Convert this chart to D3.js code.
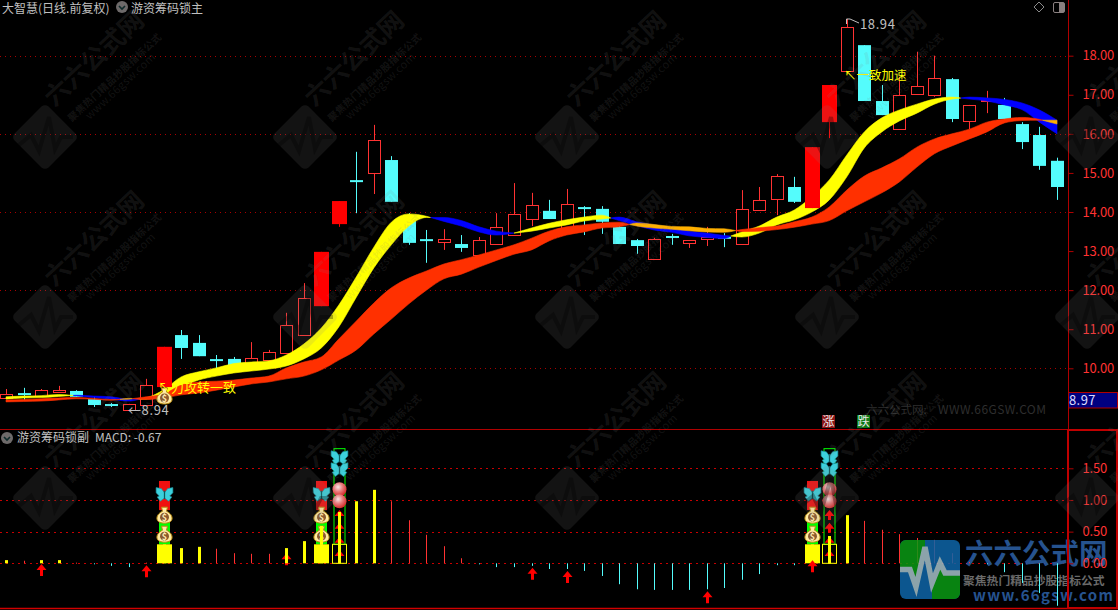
<!DOCTYPE html>
<html><head><meta charset="utf-8">
<script src="https://cdn.jsdelivr.net/npm/d3@7/dist/d3.min.js"></script>
<style>html,body{margin:0;padding:0;background:#000;overflow:hidden}svg{display:block}
text{font-family:"Noto Sans CJK SC","Liberation Sans",sans-serif}</style></head><body>
<svg id="c" width="1118" height="610"></svg>
<script>
// ---- candles ----
const opens=[9.24,9.34,9.29,9.41,9.42,9.21,9.06,8.94,9.06,9.52,10.85,10.65,10.21,10.24,10.01,10.21,10.39,10.85,11.59,13.69,14.79,15.00,15.33,13.85,13.28,13.23,13.18,12.90,13.18,13.41,13.82,14.03,13.59,14.10,14.08,13.62,13.28,12.80,13.36,13.21,13.31,13.34,13.18,14.05,14.33,14.64,14.10,16.30,17.61,18.27,16.84,16.12,17.02,17.00,17.40,16.33,16.85,16.74,16.25,15.97,15.31];
const closes=[9.34,9.34,9.44,9.45,9.27,9.06,9.06,9.09,9.57,10.55,10.52,10.31,10.21,10.08,10.26,10.42,11.11,11.80,12.98,14.28,14.79,15.84,14.26,13.21,13.28,13.31,13.08,13.28,13.62,13.95,14.18,13.82,14.21,14.10,13.75,13.18,13.13,13.31,13.36,13.28,13.36,13.34,14.08,14.31,14.92,14.26,15.66,17.25,18.74,16.84,16.48,17.00,17.23,17.43,16.38,16.74,16.87,16.38,15.79,15.18,14.64];
const highs=[9.47,9.50,9.47,9.55,9.44,9.29,9.11,9.09,9.73,10.55,10.98,10.85,10.34,10.29,10.67,10.47,11.42,12.18,12.98,14.28,15.54,16.23,15.43,13.97,13.54,13.56,13.41,13.36,13.97,14.74,14.49,14.31,14.59,14.15,14.15,13.70,13.31,13.34,13.44,13.28,13.62,13.46,14.56,14.64,14.97,14.90,15.66,17.25,18.94,18.27,17.25,17.46,18.10,18.00,17.43,16.74,17.10,16.92,16.30,16.18,15.39];
const lows=[9.24,9.19,9.29,9.39,9.27,9.01,9.01,8.94,9.06,9.52,10.24,10.31,9.93,10.08,9.96,10.14,10.39,10.85,11.59,13.62,13.97,14.46,14.26,13.16,12.70,13.03,12.98,12.90,13.18,13.41,13.64,13.82,13.59,13.41,13.44,13.18,12.93,12.80,13.16,13.08,13.13,13.10,13.18,14.05,13.92,14.23,14.10,15.89,17.53,16.84,16.48,16.12,17.02,16.95,16.30,16.12,16.53,16.38,15.61,15.08,14.31];
const solidCandles=[9,18,19,46,47];
// ---- ribbons ----
const fastA=[9.27,9.29,9.30,9.33,9.30,9.25,9.21,9.16,9.24,9.45,9.78,9.91,10.01,10.12,10.16,10.19,10.34,10.62,11.03,11.62,12.34,13.10,13.74,13.95,13.89,13.76,13.64,13.49,13.41,13.46,13.59,13.71,13.80,13.87,13.92,13.78,13.65,13.54,13.48,13.39,13.35,13.32,13.49,13.64,13.87,14.05,14.39,14.82,15.46,16.05,16.41,16.61,16.76,16.89,16.94,16.89,16.84,16.74,16.62,16.30,16.00];
const slowA=[9.21,9.24,9.25,9.28,9.31,9.29,9.27,9.21,9.21,9.34,9.52,9.70,9.80,9.88,9.93,9.98,10.06,10.24,10.52,11.06,11.82,12.57,13.16,13.64,13.86,13.86,13.78,13.62,13.51,13.46,13.51,13.59,13.67,13.77,13.82,13.87,13.75,13.67,13.59,13.51,13.46,13.40,13.36,13.46,13.67,13.80,14.00,14.31,14.90,15.64,16.05,16.33,16.53,16.76,16.89,16.94,16.92,16.88,16.79,16.61,16.35];
const fastB=[9.19,9.20,9.22,9.24,9.25,9.23,9.20,9.21,9.27,9.34,9.57,9.65,9.67,9.70,9.75,9.80,10.01,10.16,10.29,10.75,11.21,11.67,12.06,12.31,12.49,12.67,12.78,12.90,13.03,13.16,13.33,13.51,13.62,13.67,13.72,13.74,13.64,13.59,13.56,13.52,13.49,13.48,13.55,13.60,13.64,13.75,13.87,14.13,14.56,14.92,15.13,15.36,15.66,15.87,16.00,16.12,16.30,16.38,16.42,16.37,16.25];
const slowB=[9.14,9.15,9.16,9.19,9.22,9.21,9.18,9.23,9.20,9.24,9.32,9.37,9.44,9.52,9.60,9.65,9.73,9.80,9.96,10.21,10.47,10.88,11.26,11.65,12.00,12.29,12.41,12.59,12.76,12.92,13.03,13.26,13.41,13.49,13.59,13.62,13.72,13.68,13.63,13.62,13.58,13.57,13.50,13.51,13.55,13.61,13.69,13.78,14.03,14.26,14.49,14.77,15.15,15.49,15.69,15.87,16.05,16.28,16.34,16.35,16.35];
// ---- MACD ----
const macd=[0.05,0.04,0.05,0.05,0.01,-0.01,-0.04,-0.06,0.01,0.30,0.24,0.26,0.23,0.16,0.15,0.15,0.24,0.35,0.59,0.81,0.98,1.16,0.98,0.68,0.45,0.27,0.08,-0.01,-0.06,-0.06,-0.04,-0.09,-0.09,-0.12,-0.20,-0.33,-0.41,-0.42,-0.42,-0.42,-0.41,-0.39,-0.26,-0.17,-0.03,-0.03,0.30,0.43,0.76,0.67,0.53,0.46,0.40,0.37,0.16,0.02,-0.01,-0.14,-0.31,-0.47,-0.67];
const macdYellow=[0,2,3,9,10,11,16,17,18,19,20,21,46,47,48];
const priceTicks=[10,11,12,13,14,15,16,17,18];
const priceGrid=[10,12,14,16,18];
const macdTicks=[0,0.5,1,1.5];
// ---- signals ----
const blockSignals=[9,18,46], blockTop=0.30;
const boxSignals=[19,47], boxTop=0.30;
const bagSignals=[9,18,46], bagLevels=[0.76,0.46];
const redBarRange=[1.30,0.84], greenBarRange=[0.65,0.30];
const butterflyALevels=[1.08];
const tallSignals=[19,47], tallRange=[1.81,0.30];
const tallButterflyLevels=[1.66,1.47], tallBallLevels=[1.17,0.98], tallArrowLevels=[0.84,0.64,0.42,0.21];
const upArrows=[[2,-0.01],[8,-0.03],[30,-0.07],[32,-0.12],[40,-0.44],[46,0.05]];
const hiddenArrows=[[16,0.16]];
const headerMain=["大智慧(日线.前复权)","游资筹码锁主"];
const headerSub=["游资筹码锁副","MACD: -0.67"];
const bagMain=[9,9.29];
const lastPrice="8.97";

const svg=d3.select("#c");
const RED="#ff3232", GREY="#c0c0c0", FRAME="#b00000";
const x=d3.scaleLinear([0,60],[6,1057]);
const y=d3.scaleLinear([10,18],[368.3,55.7]);
const ym=d3.scaleLinear([0,1.5],[563.3,468.3]);
const px=v=>Math.round(v)+0.5;
const idx=d3.range(opens.length);

svg.append("rect").attr("width",1118).attr("height",610).attr("fill","#000");
const defs=svg.append("defs");
const bg=defs.append("radialGradient").attr("id","ballG").attr("cx","40%").attr("cy","35%").attr("r","70%");
bg.append("stop").attr("offset","0").attr("stop-color","#f6e6e6");
bg.append("stop").attr("offset","0.45").attr("stop-color","#e88080");
bg.append("stop").attr("offset","1").attr("stop-color","#d02020");

// grid
svg.append("g").selectAll("line").data(priceGrid).join("line")
 .attr("x1",0).attr("x2",1068).attr("y1",d=>px(y(d))).attr("y2",d=>px(y(d)))
 .attr("stroke","#a80000").attr("stroke-dasharray","1 4");
svg.append("g").selectAll("line").data(macdTicks).join("line")
 .attr("x1",0).attr("x2",1068).attr("y1",d=>px(ym(d))).attr("y2",d=>px(ym(d)))
 .attr("stroke","#c80000").attr("stroke-dasharray","2 4");

// corner logo text sits under the histogram
svg.append("text").attr("x",965).attr("y",564).attr("font-size",28.5).attr("font-weight",700).attr("fill","#26538f").text("六六公式网");
svg.append("text").attr("x",963).attr("y",584.5).attr("font-size",11.8).attr("font-weight",700).attr("fill","#6a6a6a").text("聚焦热门精品抄股指标公式");
svg.append("text").attr("x",973).attr("y",601).attr("font-size",15).attr("font-weight",700).attr("letter-spacing",1.3).attr("fill","#26538f").attr("font-family","Liberation Sans").text("www.66gsw.com");

// candles
const isSolid=i=>solidCandles.includes(i);
const gC=svg.append("g");
function drawCandle(g,i){
 const up=closes[i]>opens[i], cx=Math.round(x(i));
 const col=up?RED:"#54fcfc";
 const t=y(Math.max(opens[i],closes[i])), b=y(Math.min(opens[i],closes[i]));
 g.append("line").attr("x1",cx+.5).attr("x2",cx+.5).attr("y1",y(highs[i])).attr("y2",y(lows[i])).attr("stroke",isSolid(i)?"#ff0000":col);
 if(isSolid(i)){
  g.append("rect").attr("x",cx-7).attr("width",15).attr("y",t).attr("height",b-t).attr("fill","#ff0000");
 } else if(up){
  g.append("rect").attr("x",cx-5.5).attr("width",12).attr("y",Math.round(t)+.5).attr("height",Math.max(1,Math.round(b-t))).attr("fill","#000").attr("stroke",col);
 } else {
  g.append("rect").attr("x",cx-6).attr("width",13).attr("y",t-(b-t<2?1:0)).attr("height",Math.max(2,b-t)).attr("fill",col);
 }
}
idx.filter(i=>!isSolid(i)).forEach(i=>drawCandle(gC,i));

// ribbons
function ribbon(g,top,bot,colPos,colNeg){
 const runs=[]; let cur=null;
 idx.forEach(i=>{
  const s=top[i]>=bot[i];
  const pt={i,a:top[i],b:bot[i]};
  if(cur&&cur.s!==s){
   const d0=top[i-1]-bot[i-1], d1=top[i]-bot[i], t=d0===d1?0:d0/(d0-d1);
   const cv=top[i-1]+(top[i]-top[i-1])*t;
   const cp={i:i-1+t,a:cv,b:cv};
   cur.pts.push(cp); runs.push(cur);
   cur={s,pts:[cp,pt]};
  } else if(cur){cur.pts.push(pt);} else {cur={s,pts:[pt]};}
 });
 runs.push(cur);
 const area=d3.area().x(d=>x(d.i)).y0(d=>y(d.a)).y1(d=>y(d.b)).curve(d3.curveMonotoneX);
 runs.filter(r=>!r.s).concat(runs.filter(r=>r.s)).forEach(r=>{
  g.append("path").attr("d",area(r.pts)).attr("fill",r.s?colPos:colNeg).attr("stroke",r.s?colPos:colNeg).attr("stroke-width",.6);
 });
}
const gR=svg.append("g");
ribbon(gR,fastA,slowA,"#ffff00","#0000ff");
ribbon(gR,fastB,slowB,"#ff3000","#ffb000");
const gSolid=svg.append("g");
idx.filter(isSolid).forEach(i=>drawCandle(gSolid,i));

// icons
function bag(g,cx,cy){
 const b=g.append("g").attr("transform",`translate(${cx},${cy})`);
 b.append("path").attr("d","M-3,-8 L3,-8 L2,-4 C6,-2 8,1 7.5,4 C7,7 3,8 0,8 C-3,8 -7,7 -7.5,4 C-8,1 -6,-2 -2,-4 Z").attr("fill","#ffeaa0").attr("stroke","#b88a10");
 b.append("circle").attr("cy",2).attr("r",4.5).attr("fill","#8a5a30");
 b.append("text").attr("y",5.5).attr("text-anchor","middle").attr("font-size",9).attr("font-weight",700).attr("fill","#ffe9b0").text("$");
}
function butterfly(g,cx,cy){
 const b=g.append("g").attr("transform",`translate(${cx},${cy}) scale(1.05)`);
 b.append("path").attr("d","M0,-2 L-3,-6 L-8,-7 L-8,-2 L-5,1 L-7,2 L-4,6 L0,3 L4,6 L7,2 L5,1 L8,-2 L8,-7 L3,-6 Z").attr("fill","#3cd0dc").attr("stroke","#1a8a94").attr("stroke-width",.6);
 b.append("line").attr("y1",-4).attr("y2",4).attr("stroke","#0b5a60").attr("stroke-width",1.2);
}
function ball(g,cx,cy){
 g.append("circle").attr("cx",cx).attr("cy",cy).attr("r",7).attr("fill","url(#ballG)");
}
function arrow(g,cx,top,h){
 h=h||12;
 g.append("path").attr("d",`M${cx},${top} L${cx+5},${top+6} L${cx+1.5},${top+6} L${cx+1.5},${top+h} L${cx-1.5},${top+h} L${cx-1.5},${top+6} L${cx-5},${top+6} Z`).attr("fill","#ff0000");
}

// lower panel
const gBack=svg.append("g");
hiddenArrows.forEach(([i,v])=>arrow(gBack,Math.round(x(i))+.5,ym(v)));
const gM=svg.append("g");
idx.forEach(i=>{
 const yel=macdYellow.includes(i), v=macd[i], cx=Math.round(x(i));
 gM.append("rect").attr("x",yel?cx-1:cx).attr("width",yel?3:1)
  .attr("y",v>=0?ym(v):ym(0)).attr("height",Math.max(1,Math.abs(ym(v)-ym(0))))
  .attr("fill",yel?"#ffff00":(v>=0?RED:"#54fcfc"));
});
const gS=svg.append("g");
bagSignals.forEach(i=>{
 const cx=Math.round(x(i))+.5;
 gS.append("rect").attr("x",cx-5.5).attr("width",11).attr("y",ym(redBarRange[0])).attr("height",ym(redBarRange[1])-ym(redBarRange[0])).attr("fill","#f01010");
 gS.append("rect").attr("x",cx-5.5).attr("width",11).attr("y",ym(greenBarRange[0])).attr("height",ym(greenBarRange[1])-ym(greenBarRange[0])).attr("fill","#00ff00");
 gS.append("rect").attr("x",cx-7.5).attr("width",15).attr("y",ym(blockTop)).attr("height",ym(0)-ym(blockTop)).attr("fill","#ffff00");
 bagLevels.forEach(l=>bag(gS,cx,ym(l)));
 butterflyALevels.forEach(l=>butterfly(gS,cx,ym(l)));
});
{const cx=Math.round(x(18))+.5; gS.append("rect").attr("x",cx-1.5).attr("width",3).attr("y",ym(macd[18])).attr("height",ym(blockTop)-ym(macd[18])).attr("fill","#ffff00");}
tallSignals.forEach(i=>{
 const cx=Math.round(x(i))+.5;
 gS.append("rect").attr("x",cx-5.5).attr("width",11).attr("y",ym(tallRange[0])).attr("height",ym(tallRange[1])-ym(tallRange[0])).attr("fill","none").attr("stroke","#00ff00");
 tallArrowLevels.forEach(l=>arrow(gS,cx,ym(l),10));
 tallBallLevels.forEach(l=>ball(gS,cx,ym(l)));
 tallButterflyLevels.forEach(l=>butterfly(gS,cx,ym(l)));
 gS.append("rect").attr("x",cx-7).attr("width",14).attr("y",ym(boxTop)).attr("height",ym(0)-ym(boxTop)).attr("fill","none").attr("stroke","#ffff00");
 gS.append("rect").attr("x",cx-1.5).attr("width",3).attr("y",ym(macd[i])).attr("height",ym(0)-ym(macd[i])).attr("fill","#ffff00");
});
upArrows.forEach(([i,v])=>arrow(gS,Math.round(x(i))+.5,ym(v)));

// main panel annotations
bag(svg,Math.round(x(bagMain[0]))+.5,y(bagMain[1]));
const note=(t,xx,yy,col,size)=>svg.append("text").attr("x",xx).attr("y",yy).attr("fill",col).attr("font-size",size).text(t);
note("↖力攻转一致",158,392,"#ffff00",13);
note("↖一致加速",844,80,"#ffff00",12.5);
note("←8.94",128,415,GREY,13).attr("font-family","Liberation Sans").attr("letter-spacing",.6);
note("18.94",860,29,GREY,13).attr("font-family","Liberation Sans").attr("letter-spacing",.6);
svg.append("path").attr("d",`M846.5,24V19H850M850,19L859,23`).attr("fill","none").attr("stroke",GREY);

// header
note(headerMain[0],2,13,GREY,12);
note(headerMain[1],131,13,GREY,12);
note(headerSub[0],17,442,GREY,12);
note(headerSub[1],95,442,GREY,12).attr("font-family","Liberation Sans");
function hIcon(cx,cy){
 svg.append("circle").attr("cx",cx).attr("cy",cy).attr("r",6).attr("fill","#6e6a6a");
 svg.append("path").attr("d",`M${cx-3},${cy-1} L${cx},${cy+2} L${cx+3},${cy-1}`).attr("fill","none").attr("stroke","#0e2a2a").attr("stroke-width",1.6);
}
hIcon(122,7); hIcon(7,438);

// frame
const fr=svg.append("g").attr("fill","none").attr("stroke",FRAME);
fr.append("line").attr("x1",0).attr("x2",1118).attr("y1",429.5).attr("y2",429.5);
fr.append("line").attr("x1",1068.5).attr("x2",1068.5).attr("y1",0).attr("y2",430);
fr.append("line").attr("x1",0).attr("x2",1118).attr("y1",608.5).attr("y2",608.5).attr("stroke","#d00000").attr("stroke-width",1.5);
fr.append("rect").attr("x",1068).attr("y",430).attr("width",49).attr("height",178).attr("stroke","#c00000").attr("stroke-width",2);
svg.append("rect").attr("x",1068.5).attr("y",392.5).attr("width",49).attr("height",15.5).attr("fill","#000080").attr("stroke",FRAME);
svg.append("text").attr("x",1069).attr("y",404.5).attr("fill","#dcdcff").attr("font-size",13).attr("font-family","Liberation Sans").attr("letter-spacing",.4).text(lastPrice);

// axes
function styleAxis(g,col){
 g.select(".domain").remove();
 g.selectAll("line").attr("stroke",col);
 g.selectAll("text").attr("fill",RED).attr("font-size",13).attr("font-family","Liberation Sans").attr("x",14).attr("letter-spacing",-.2);
}
svg.append("g").attr("transform","translate(1068.5,0)").call(d3.axisRight(y).tickValues(priceTicks).tickSize(5).tickFormat(d3.format(".2f"))).call(g=>styleAxis(g,FRAME));
svg.append("g").attr("transform","translate(1068.5,0)").call(d3.axisRight(ym).tickValues(macdTicks).tickSize(5).tickFormat(d3.format(".2f"))).call(g=>styleAxis(g,FRAME));

// top right icons
svg.append("path").attr("d","M1039,2 L1044,7 L1039,12 L1034,7 Z").attr("fill","none").attr("stroke","#8a8a8a");
svg.append("rect").attr("x",1053.5).attr("y",2.5).attr("width",11).attr("height",10).attr("rx",1.5).attr("fill","none").attr("stroke","#8a8080");
svg.append("rect").attr("x",1059).attr("y",3).attr("width",5).attr("height",9).attr("fill","#8a8080");

// rise/fall tags
[["涨",822,"#8a1414"],["跌",857,"#0a7a14"]].forEach(([t,xx,c])=>{
 svg.append("rect").attr("x",xx).attr("y",415).attr("width",13).attr("height",13).attr("fill",c);
 svg.append("text").attr("x",xx+.5).attr("y",426).attr("font-size",12).attr("fill","#eee").text(t);
});
svg.append("text").attr("x",866).attr("y",414).attr("font-size",11.5).attr("fill","#2e2e2e").text("六六公式网:");
svg.append("text").attr("x",938).attr("y",414).attr("font-size",12).attr("fill","#2e2e2e").attr("font-family","Liberation Sans").attr("letter-spacing",.45).text("WWW.66GSW.COM");

// watermark overlay
const WM="rgba(128,128,128,0.15)";
const wm=svg.append("g");
[45,305,567,827,1087].forEach(cx=>[137,317,498].forEach(cy=>{
 const t=wm.append("g").attr("transform",`translate(${cx},${cy})`);
 t.append("rect").attr("x",-24).attr("y",-24).attr("width",48).attr("height",48).attr("rx",5).attr("transform","rotate(45)").attr("fill",WM);
 t.append("path").attr("d","M-26,8 L-14,-2 L-6,14 L4,-20 L10,12 L16,0 L28,0").attr("fill","none").attr("stroke","rgba(0,0,0,0.3)").attr("stroke-width",4);
 const r=(s,dx,dy,fs,w,ls)=>t.append("text").attr("transform",`translate(${dx},${dy}) rotate(-43)`).attr("text-anchor","middle").attr("font-size",fs).attr("font-weight",w).attr("letter-spacing",ls).attr("fill",WM).text(s);
 r("六六公式网",55,-72,25,700,0);
 r("聚焦热门精品抄股指标公式",72,-57,10,700,.3);
 r("www.66gsw.com",78,-48,11,400,.4);
}));

// corner logo square (translucent over the histogram)
const lg=svg.append("g").attr("opacity",.85);
defs.append("clipPath").attr("id","lc").append("rect").attr("x",900).attr("y",540).attr("width",60).attr("height",59).attr("rx",6);
const li=lg.append("g").attr("clip-path","url(#lc)");
li.append("rect").attr("x",900).attr("y",540).attr("width",60).attr("height",59).attr("fill","#0f66a8");
li.append("path").attr("d","M900,540H925V547L916,587L910,569H900Z").attr("fill","#0a9a14");
li.append("path").attr("d","M932,583L940,563L945,573H960V599H932Z").attr("fill","#0a9a14");
li.append("path").attr("d","M900,569.5H910L916,587L925,547L932,583L940,563L945,573H960").attr("fill","none").attr("stroke","#a5c0c8").attr("stroke-width",5.5);
</script></body></html>
